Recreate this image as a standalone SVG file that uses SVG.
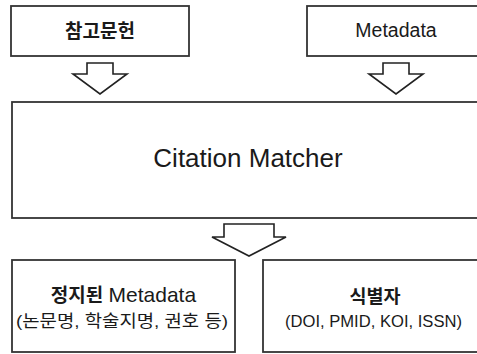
<svg xmlns="http://www.w3.org/2000/svg" width="477" height="354" viewBox="0 0 477 354">
<style>
.box{fill:#fff;stroke:#333;stroke-width:1.8}
.arr{fill:#fff;stroke:#222;stroke-width:1.6;stroke-linejoin:miter}
text{font-family:"Liberation Sans","Noto Sans CJK KR",sans-serif;fill:#1a1a1a;text-anchor:middle}
.ko{font-weight:bold}
</style>
<rect width="477" height="354" fill="#fff"/>
<g id="node-refs">
<rect class="box" x="11" y="6" width="178" height="50"/>
<text x="100" y="38" font-size="19" class="ko">참고문헌</text>
</g>
<g id="node-metadata">
<rect class="box" x="307" y="6" width="180" height="50"/>
<text x="396" y="37" font-size="19.5">Metadata</text>
</g>
<g id="node-matcher">
<rect class="box" x="12" y="102" width="475" height="116"/>
<text x="248" y="167" font-size="26">Citation Matcher</text>
</g>
<g id="node-normalized">
<rect class="box" x="12" y="260" width="223" height="92"/>
<text x="123.5" y="302" font-size="19"><tspan class="ko">정지된</tspan> <tspan font-size="21">Metadata</tspan></text>
<text x="122" y="327" font-size="17" textLength="212" lengthAdjust="spacingAndGlyphs">(논문명, 학술지명, 권호 등)</text>
</g>
<g id="node-identifier">
<rect class="box" x="263" y="260" width="224" height="92"/>
<text x="375" y="303" font-size="18.5" class="ko">식별자</text>
<text x="373.5" y="327" font-size="16.6">(DOI, PMID, KOI, ISSN)</text>
</g>
<g id="connectors">
<polygon class="arr" points="87,63 113,63 113,74 127,74 100,94 73,74 87,74"/>
<polygon class="arr" points="383,63 409,63 409,74 423,74 396,94 369,74 383,74"/>
<polygon class="arr" points="224,224 274,224 274,237 286,237 249,256 212,237 224,237"/>
</g>
</svg>
